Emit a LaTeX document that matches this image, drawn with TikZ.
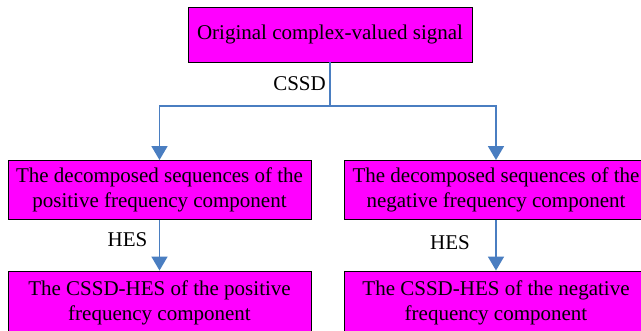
\documentclass[tikz,border=0pt]{standalone}
\usepackage{fontspec}
\setmainfont{Liberation Serif}
\usetikzlibrary{arrows.meta}
\definecolor{boxfill}{RGB}{255,0,255}
\definecolor{arrowblue}{RGB}{74,126,193}
\begin{document}
\begin{tikzpicture}[x=1pt,y=1pt,
  stepbox/.style={draw=black,line width=0.9pt,fill=boxfill,minimum width=303pt,minimum height=59pt,
    inner sep=0pt,align=center,font=\fontsize{21}{25}\selectfont},
  conn/.style={draw=arrowblue,line width=1.6pt},
  arr/.style={conn,-{Triangle[width=16pt,length=14pt]}},
  lab/.style={font=\fontsize{21}{25}\selectfont,inner sep=0pt}]
\useasboundingbox (0,0) rectangle (641,-330);
\clip (0,0) rectangle (641,-330);
\node[stepbox,minimum width=284pt,minimum height=55pt] (top) at (330,-34.5) {Original complex-valued signal};
\node[stepbox] (lmid) at (159.5,-190) {The decomposed sequences of the\\positive frequency component};
\node[stepbox] (rmid) at (496,-190) {The decomposed sequences of the\\negative frequency component};
\node[stepbox,minimum height=63pt] (lbot) at (159.5,-302.5) {The CSSD-HES of the positive\\frequency component};
\node[stepbox,minimum height=63pt] (rbot) at (496,-302.5) {The CSSD-HES of the negative\\frequency component};
\coordinate (j) at (330,-106);
\draw[conn] (top.south) -- (j);
\draw[arr] (j) -| (lmid.north);
\draw[arr] (j) -| (rmid.north);
\draw[arr] (lmid.south) -- (lbot.north);
\draw[arr] (rmid.south) -- (rbot.north);
\node[lab,anchor=east] (cssd) at (326,-84) {CSSD};
\node[lab] (hesl) at (127.5,-240) {HES};
\node[lab] (hesr) at (450,-243) {HES};
\end{tikzpicture}
\end{document}
